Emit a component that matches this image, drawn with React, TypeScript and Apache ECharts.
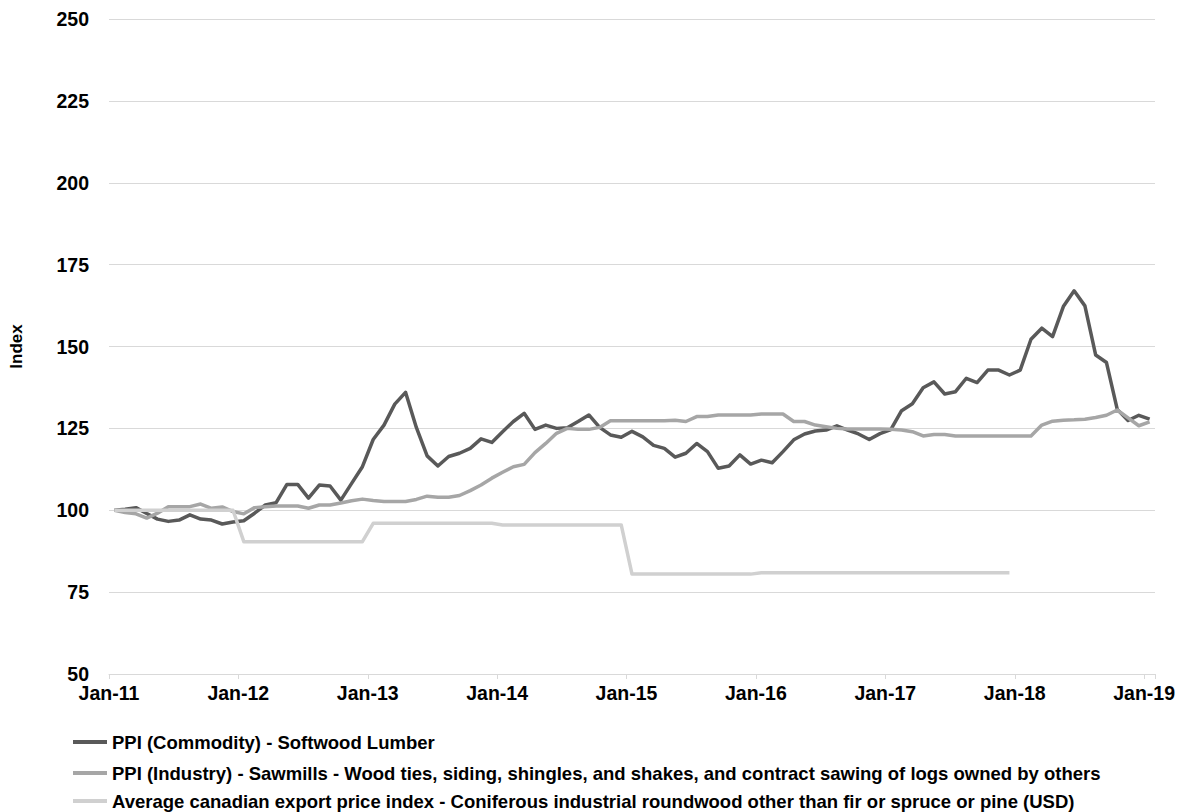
import React, { useEffect, useRef } from "react";
import * as echarts from "echarts";

const MONTH_NAMES = ["Jan", "Feb", "Mar", "Apr", "May", "Jun", "Jul", "Aug", "Sep", "Oct", "Nov", "Dec"];
const YEARS = ["11", "12", "13", "14", "15", "16", "17", "18"];
const LAST_MONTH = "Jan-19";

const categories: string[] = [];
YEARS.forEach((y) => MONTH_NAMES.forEach((m) => categories.push(`${m}-${y}`)));
categories.push(LAST_MONTH);

const Y_MIN = 50;
const Y_MAX = 250;
const Y_STEP = 25;

const SERIES_NAMES = [
  "PPI (Commodity) - Softwood Lumber",
  "PPI (Industry) - Sawmills - Wood ties, siding, shingles, and shakes, and contract sawing of logs owned by others",
  "Average canadian export price index - Coniferous industrial roundwood other than fir or spruce or pine (USD)",
];

const softwoodLumber = [
  100.0, 100.3, 100.8, 99.0, 97.3, 96.6, 97.0, 98.6, 97.3, 97.0, 95.8, 96.4,
  96.8, 99.1, 101.6, 102.3, 107.9, 107.9, 103.7, 107.7, 107.4, 103.1, 108.2, 113.3,
  121.6, 126.0, 132.4, 136.0, 125.3, 116.6, 113.5, 116.4, 117.4, 118.9, 121.8, 120.7,
  124.0, 127.1, 129.6, 124.7, 126.0, 125.0, 125.2, 127.1, 129.1, 125.3, 123.0, 122.3,
  124.1, 122.4, 119.8, 118.9, 116.2, 117.4, 120.4, 117.9, 112.8, 113.5, 116.9, 114.1,
  115.3, 114.5, 117.9, 121.5, 123.3, 124.2, 124.5, 125.8, 124.5, 123.3, 121.6, 123.4,
  124.6, 130.4, 132.5, 137.4, 139.2, 135.5, 136.2, 140.3, 139.0, 142.8, 142.8, 141.3,
  142.8, 152.2, 155.6, 153.0, 162.2, 167.0, 162.4, 147.4, 145.1, 130.8, 127.4, 129.0,
  127.8,
];

const sawmills = [
  100.0, 99.3, 98.9, 97.6, 99.1, 101.1, 101.1, 101.1, 101.9, 100.6, 101.0, 99.6,
  98.9, 100.8, 101.1, 101.3, 101.3, 101.3, 100.6, 101.6, 101.6, 102.2, 102.9, 103.4,
  103.0, 102.7, 102.7, 102.7, 103.3, 104.3, 104.0, 104.0, 104.5, 106.0, 107.7, 109.8,
  111.6, 113.3, 114.0, 117.6, 120.4, 123.5, 125.0, 124.7, 124.7, 125.3, 127.3, 127.3,
  127.3, 127.3, 127.3, 127.3, 127.5, 127.1, 128.6, 128.6, 129.1, 129.1, 129.1, 129.1,
  129.4, 129.4, 129.4, 127.1, 127.1, 126.0, 125.5, 125.0, 124.8, 124.8, 124.8, 124.8,
  124.7, 124.5, 124.0, 122.7, 123.1, 123.1, 122.7, 122.7, 122.7, 122.7, 122.7, 122.7,
  122.7, 122.7, 126.0, 127.2, 127.5, 127.6, 127.8, 128.3, 129.0, 130.6, 128.2, 125.8,
  127.0,
];

const exportPrice: (number | null)[] = [
  100.0, 100.0, 100.0, 100.0, 100.0, 100.0, 100.0, 100.0, 100.0, 100.0, 100.0, 100.0,
  90.4, 90.4, 90.4, 90.4, 90.4, 90.4, 90.4, 90.4, 90.4, 90.4, 90.4, 90.4,
  96.0, 96.0, 96.0, 96.0, 96.0, 96.0, 96.0, 96.0, 96.0, 96.0, 96.0, 96.0,
  95.5, 95.5, 95.5, 95.5, 95.5, 95.5, 95.5, 95.5, 95.5, 95.5, 95.5, 95.5,
  80.5, 80.5, 80.5, 80.5, 80.5, 80.5, 80.5, 80.5, 80.5, 80.5, 80.5, 80.5,
  80.9, 80.9, 80.9, 80.9, 80.9, 80.9, 80.9, 80.9, 80.9, 80.9, 80.9, 80.9,
  80.9, 80.9, 80.9, 80.9, 80.9, 80.9, 80.9, 80.9, 80.9, 80.9, 80.9, 80.9,
  null, null, null, null, null, null, null, null, null, null, null, null,
  null,
];

const COLORS = ["#595959", "#a6a6a6", "#d0d0d0"];
const FONT = "'Liberation Sans', Arial, sans-serif";
const LEGEND_TOPS = [732.5, 763.5, 791.5];
const LEGEND_FONT = 18.5;
const AXIS_FONT = 19.5;

export default function App() {
  const ref = useRef<HTMLDivElement>(null);

  useEffect(() => {
    if (!ref.current) return;
    const chart = echarts.init(ref.current, null, { renderer: "svg" });
    const dataSets = [softwoodLumber, sawmills, exportPrice];
    chart.setOption({
      animation: false,
      backgroundColor: "#ffffff",
      textStyle: { fontFamily: FONT },
      grid: { left: 102, right: 30, top: 19, bottom: 138 },
      legend: SERIES_NAMES.map((name, i) => ({
        orient: "horizontal",
        left: 73,
        top: LEGEND_TOPS[i],
        padding: 0,
        itemWidth: 34,
        itemHeight: 4,
        icon: "rect",
        data: [name],
        selectedMode: false,
        textStyle: { fontSize: LEGEND_FONT, fontWeight: "bold", color: "#000", fontFamily: FONT },
      })),
      xAxis: {
        type: "category",
        data: categories,
        boundaryGap: true,
        axisLine: { lineStyle: { color: "#d9d9d9", width: 1 } },
        axisTick: { show: true, interval: 11, length: 5, lineStyle: { color: "#d9d9d9" } },
        axisLabel: {
          interval: 11,
          margin: 9,
          padding: [0, 11, 0, 0],
          fontSize: AXIS_FONT,
          fontWeight: "bold",
          color: "#000",
          fontFamily: FONT,
        },
        splitLine: { show: false },
      },
      yAxis: {
        type: "value",
        min: Y_MIN,
        max: Y_MAX,
        interval: Y_STEP,
        name: "Index",
        nameLocation: "middle",
        nameGap: 84,
        nameTextStyle: { fontSize: 17, fontWeight: "bold", color: "#000", fontFamily: FONT },
        axisLine: { show: false },
        axisTick: { show: false },
        axisLabel: { margin: 20, fontSize: AXIS_FONT, fontWeight: "bold", color: "#000", fontFamily: FONT },
        splitLine: { lineStyle: { color: "#d9d9d9", width: 1 } },
      },
      series: SERIES_NAMES.map((name, i) => ({
        name,
        type: "line",
        data: dataSets[i],
        showSymbol: false,
        symbol: "none",
        connectNulls: false,
        lineStyle: { color: COLORS[i], width: 3.5, join: "round" },
        itemStyle: { color: COLORS[i] },
        emphasis: { disabled: true },
      })),
    });
    return () => chart.dispose();
  }, []);

  return (
    <div
      ref={ref}
      style={{ position: "fixed", left: 0, top: 0, width: 1185, height: 812, background: "#fff" }}
    />
  );
}
